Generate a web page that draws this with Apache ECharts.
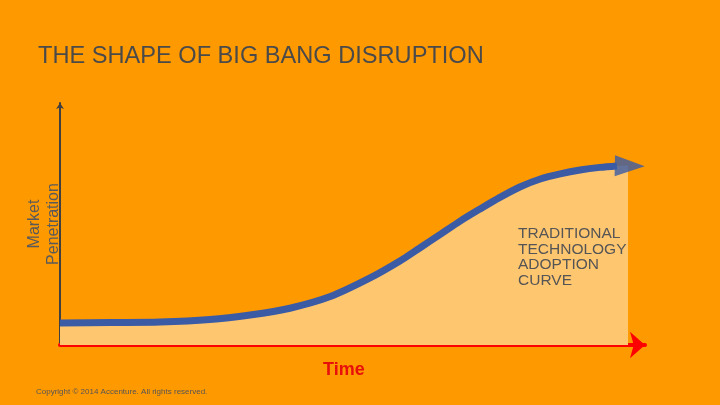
<!DOCTYPE html>
<html>
<head>
<meta charset="utf-8">
<script src="https://cdn.jsdelivr.net/npm/echarts@6/dist/echarts.min.js"></script>
<style>html,body{margin:0;padding:0;background:#FF9900;}#c{width:720px;height:405px;}</style>
</head>
<body>
<div id="c"></div>
<script>
// Time (0-100 along the axis) and market penetration (0-100)
const curveX = [0, 8.55, 17.1, 25.6, 32.5, 39.3, 46.2, 53.0, 58.1, 61.5, 65.0, 68.4, 71.8, 75.2, 78.6, 82.1, 85.5, 88.9, 92.3, 95.2];
const curveY = [9.1, 9.3, 9.5, 10.5, 12.4, 15.2, 20.0, 27.7, 34.7, 40.1, 45.7, 51.2, 56.2, 61.0, 65.3, 68.6, 70.7, 72.3, 73.4, 74.0];
const fillEndX = 97.1;
const fillEndY = 74.2;
const arrowX = 97.4;
const arrowY = 74.0;

const titleText = 'THE SHAPE OF BIG BANG DISRUPTION';
const yName = 'Market\nPenetration';
const xName = 'Time';
const curveLabel = 'TRADITIONAL\nTECHNOLOGY\nADOPTION\nCURVE';
const copyright = 'Copyright © 2014 Accenture. All rights reserved.';

const lineData = curveX.map((x, i) => [x, curveY[i]]);
const fillData = lineData.concat([[fillEndX, fillEndY]]);

const chart = echarts.init(document.getElementById('c'));
chart.setOption({
  backgroundColor: '#FF9900',
  animation: false,
  title: {
    text: titleText, left: 33, top: 39,
    textStyle: { fontFamily: 'Liberation Sans', fontSize: 23.6, fontWeight: 'normal', color: '#4a4a4a' }
  },
  grid: { left: 60, right: 75, top: 103, bottom: 60 },
  xAxis: {
    type: 'value', min: 0, max: 100,
    axisLine: { show: true, lineStyle: { color: '#FF0000', width: 4 }, symbol: ['none', 'arrow'], symbolSize: [20, 15] },
    axisTick: { show: false }, axisLabel: { show: false }, splitLine: { show: false }
  },
  yAxis: {
    type: 'value', min: 0, max: 100,
    name: yName, nameLocation: 'middle', nameGap: -3, nameRotate: 90,
    nameTextStyle: { fontFamily: 'Liberation Sans', fontSize: 16, color: '#5a5a5a', lineHeight: 19 },
    axisLine: { show: true, onZero: false, lineStyle: { color: '#404040', width: 2 }, symbol: ['none', 'arrow'], symbolSize: [6, 6] },
    axisTick: { show: false }, axisLabel: { show: false }, splitLine: { show: false }
  },
  series: [
    {
      type: 'line', data: fillData, smooth: 0.3, symbol: 'none', z: 1,
      lineStyle: { width: 0, opacity: 0 },
      areaStyle: { color: '#FFC670', opacity: 1 }
    },
    {
      type: 'line', data: lineData, smooth: 0.3, symbol: 'none', z: 3,
      lineStyle: { color: '#3B5BA5', width: 7 }
    },
    {
      type: 'scatter', data: [[arrowX, arrowY]], symbol: 'triangle', symbolSize: [21, 30], symbolRotate: -91, z: 4,
      itemStyle: { color: '#3B5BA5' }
    }
  ],
  graphic: [
    {
      type: 'text', left: 518, top: 226, z: 100,
      style: { text: curveLabel, font: '15.5px "Liberation Sans"', fill: '#555555', lineHeight: 15.5 }
    },
    {
      type: 'text', left: 323, top: 361, z: 100,
      style: { text: xName, font: 'bold 18px "Liberation Sans"', fill: '#E8100A' }
    },
    {
      type: 'text', left: 36, top: 388, z: 100,
      style: { text: copyright, font: '8px "Liberation Sans"', fill: '#555555' }
    }
  ]
});
</script>
</body>
</html>
